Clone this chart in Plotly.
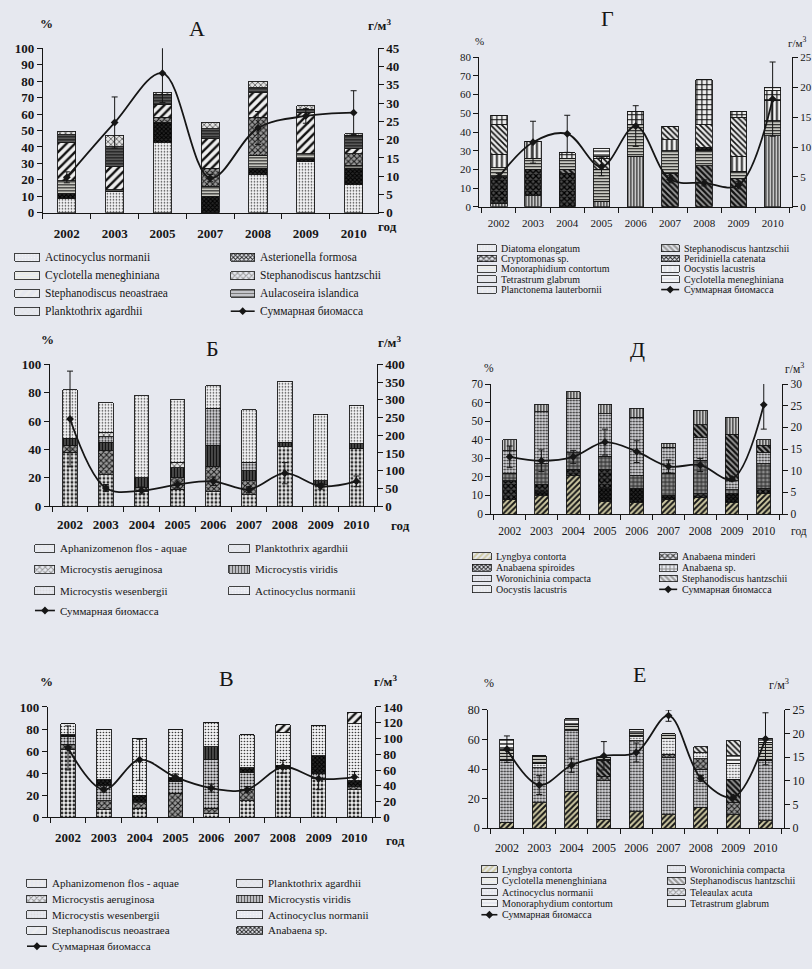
import plotly.graph_objects as go

W, H = 812, 969
PAPER = "#e6e8ef"
INK = "#161616"
SERIF = "Liberation Serif"

YEARS = ["2002", "2003", "2004", "2005", "2006", "2007", "2008", "2009", "2010"]
YEARS_A = ["2002", "2003", "2005", "2007", "2008", "2009", "2010"]

# ---------------- Panel А (% of biomass, total biomass g/m3) ----------------
A_ACTINOCYCLUS = [8.5, 13, 43, 0, 23, 31, 17]
A_ASTERIONELLA = [3, 0, 12, 10, 4, 2, 10]
A_CYCLOTELLA = [8, 1, 0, 6, 8, 3, 2]
A_ST_HANTZSCHII = [0, 0, 3, 11, 23, 0, 7]
A_ST_NEOASTRAEA = [23, 14, 8, 18, 15, 25, 3]
A_AULACOSEIRA = [5, 12, 6, 6, 3, 2, 8]
A_PLANKTOTHRIX = [2, 7, 1, 4, 4, 2, 1]
A_BIOMASS = [9.7, 24.7, 38.2, 9.5, 23.2, 26.5, 27.4]
A_BIOMASS_ERR = [1.5, 7, 8, 1, 4.5, 2, 6]

# ---------------- Panel Г ----------------
G_DIATOMA = [2, 6, 0, 3, 27, 0, 0, 0, 38]
G_CRYPTOMONAS = [14, 14, 18, 0, 0, 0, 0, 0, 0]
G_ST_HANTZSCHII = [0, 0, 2, 0, 0, 18, 22, 15, 0]
G_MONORAPHIDIUM = [5, 6, 6, 17, 17, 12, 8, 4, 8]
G_PERIDINIELLA = [0, 0, 0, 0, 0, 0, 2, 0, 0]
G_OOCYSTIS = [7, 9, 0, 0, 0, 6, 0, 8, 11]
G_TETRASTRUM = [16, 0, 0, 6, 0, 7, 12, 21, 0]
G_PLANCTONEMA = [5, 0, 3, 1, 7, 0, 24, 3, 5]
G_CYCLOTELLA = [0, 0, 0, 4, 0, 0, 0, 0, 2]
G_BIOMASS = [5.0, 10.8, 12.2, 6.7, 13.5, 4.6, 4.0, 3.6, 18.0]
G_BIOMASS_ERR = [0.6, 3.5, 3.1, 1.5, 3.4, 0.6, 0.5, 0.6, 6.2]

# ---------------- Panel Б ----------------
B_APHANIZOMENON = [38, 22, 10, 12, 10, 8, 42, 15, 41]
B_M_AERUGINOSA = [5, 17, 3, 8, 18, 10, 0, 0, 0]
B_M_VIRIDIS = [5, 6, 7, 7, 15, 7, 3, 3, 3]
B_M_WESENBERGII = [0, 4, 0, 0, 26, 6, 0, 0, 0]
B_PLANKTOTHRIX = [0, 3, 0, 4, 0, 0, 0, 0, 0]
B_ACTINOCYCLUS = [34, 21, 58, 44, 16, 37, 43, 47, 27]
B_BIOMASS = [246, 51, 44, 61, 70, 47, 93, 56, 70]
B_BIOMASS_ERR = [135, 10, 10, 10, 12, 8, 30, 8, 15]

# ---------------- Panel Д ----------------
D_LYNGBYA = [8, 10, 21, 7, 6, 8, 9, 6, 11]
D_A_SPIROIDES = [0, 2, 0, 7, 8, 2, 0, 5, 0]
D_A_MINDERI = [10, 4, 3, 10, 0, 0, 2, 0, 3]
D_ANABAENA_SP = [4, 11, 9, 7, 7, 12, 18, 2, 13]
D_WORONICHINIA = [12, 28, 29, 23, 31, 14, 12, 5, 6]
D_ST_HANTZSCHII = [0, 0, 0, 0, 0, 0, 7, 25, 4]
D_OOCYSTIS = [6, 4, 4, 5, 5, 2, 8, 9, 3]
D_BIOMASS = [13.2, 12.3, 13.2, 16.6, 14.4, 11.0, 11.3, 8.1, 25.2]
D_BIOMASS_ERR = [2.5, 2.5, 1.5, 3, 2.5, 1.5, 1.5, 0.5, 5.6]

# ---------------- Panel В ----------------
V_APHANIZOMENON = [61, 7, 8, 0, 3, 15, 44, 35, 25]
V_M_AERUGINOSA = [5, 8, 5, 22, 5, 10, 0, 0, 3]
V_M_WESENBERGII = [7, 14, 1, 10, 44, 16, 0, 5, 0]
V_M_VIRIDIS = [0, 0, 0, 0, 12, 0, 0, 0, 0]
V_ANABAENA_SP = [2, 5, 6, 4, 0, 4, 3, 16, 5]
V_ACTINOCYCLUS = [10, 46, 51, 44, 22, 30, 30, 27, 52]
V_ST_NEOASTRAEA = [0, 0, 0, 0, 0, 0, 7, 0, 10]
V_PLANKTOTHRIX = [0, 0, 0, 0, 0, 0, 0, 0, 0]
V_BIOMASS = [88, 35, 73, 51, 37, 35, 64, 49, 51]
V_BIOMASS_ERR = [28, 3, 26, 4, 5, 4, 8, 14, 7]

# ---------------- Panel Е ----------------
E_LYNGBYA = [4, 17, 25, 6, 11, 9, 14, 9, 5]
E_WORONICHINIA = [42, 24, 41, 26, 48, 39, 26, 0, 41]
E_TELEAULAX = [0, 0, 0, 3, 0, 2, 7, 8, 0]
E_ST_HANTZSCHII = [0, 0, 0, 11, 0, 0, 0, 16, 0]
E_ACTINOCYCLUS = [0, 3, 0, 0, 3, 11, 4, 11, 0]
E_CYCLOTELLA = [7, 5, 4, 2, 2, 3, 0, 0, 12]
E_MONORAPHYDIUM = [7, 0, 4, 0, 3, 0, 0, 5, 3]
E_TETRASTRUM = [0, 0, 0, 0, 0, 0, 4, 10, 0]
E_BIOMASS = [16.7, 9.1, 13.3, 15.3, 16.0, 23.8, 10.5, 6.5, 18.9]
E_BIOMASS_ERR = [2.8, 2, 1.5, 3, 2, 1.2, 0.6, 0.5, 5.5]

TOTAL = "Суммарная биомасса"

# Fill patterns used for the taxa
PATTERNS = {
    "dots": dict(shape=".", fg="#333333", bg="#f2f2f4", solidity=0.22, size=3),
    "bigdots": dict(shape=".", fg="#2a2a2a", bg="#ececec", solidity=0.4, size=4),
    "dense_dots": dict(shape=".", fg="#1e1e1e", bg="#dcdce0", solidity=0.4, size=3),
    "hlines": dict(shape="-", fg="#111111", bg="#efefe6", solidity=0.45, size=3),
    "hlines2": dict(shape="-", fg="#111111", bg="#f8f8f8", solidity=0.35, size=4),
    "dark_hlines": dict(shape="-", fg="#111111", bg="#7a7a7a", solidity=0.55, size=3),
    "vlines": dict(shape="|", fg="#111111", bg="#eeeeee", solidity=0.45, size=3),
    "vlines_wide": dict(shape="|", fg="#111111", bg="#f4f4f4", solidity=0.35, size=5),
    "dark_vlines": dict(shape="|", fg="#111111", bg="#606060", solidity=0.55, size=3),
    "slash": dict(shape="/", fg="#111111", bg="#eeeeee", solidity=0.4, size=6),
    "slash_dense": dict(shape="/", fg="#161616", bg="#cfcaa4", solidity=0.5, size=4),
    "bslash": dict(shape="\\", fg="#111111", bg="#e8e8e8", solidity=0.4, size=4),
    "bslash_dense": dict(shape="\\", fg="#111111", bg="#9c9c9c", solidity=0.55, size=4),
    "cross": dict(shape="x", fg="#1a1a1a", bg="#9a9a9a", solidity=0.45, size=4),
    "dark_cross": dict(shape="x", fg="#000000", bg="#4a4a4a", solidity=0.55, size=4),
    "dark": dict(shape="x", fg="#000000", bg="#262626", solidity=0.55, size=3),
    "grid": dict(shape="+", fg="#111111", bg="#eeeeee", solidity=0.4, size=5),
    "grey_grid": dict(shape="+", fg="#2a2a2a", bg="#8c8c8c", solidity=0.45, size=4),
    "wavy": dict(shape="x", fg="#333333", bg="#e2e2e2", solidity=0.3, size=4),
}

PANELS = [
    dict(title="А", years=YEARS_A, box=(43, 378, 42, 209), left=(100, 10), right=(45, 5),
         bar_w=0.38, bold=True, tick_fs=13, standoff=8,
         series=[("Actinocyclus normanii", A_ACTINOCYCLUS, "dots"),
                 ("Asterionella formosa", A_ASTERIONELLA, "dark"),
                 ("Cyclotella meneghiniana", A_CYCLOTELLA, "hlines"),
                 ("Stephanodiscus hantzschii", A_ST_HANTZSCHII, "cross"),
                 ("Stephanodiscus neoastraea", A_ST_NEOASTRAEA, "slash"),
                 ("Aulacoseira islandica", A_AULACOSEIRA, "dark_hlines"),
                 ("Planktothrix agardhii", A_PLANKTOTHRIX, "wavy")],
         bio=A_BIOMASS, err=A_BIOMASS_ERR,
         title_xy=(197, 22), pct_xy=(47, 17), unit_xy=(380, 18), god_xy=(388, 223),
         legend=dict(fs=11.5, sw_h=8,
                     cols=[dict(sw=(15, 40), tx=43, rows=[254, 273, 291, 309],
                                items=["Actinocyclus normanii", "Cyclotella meneghiniana",
                                       "Stephanodiscus neoastraea", "Planktothrix agardhii"]),
                           dict(sw=(231, 255), tx=258, rows=[254, 273, 291, 309],
                                items=["Asterionella formosa", "Stephanodiscus hantzschii",
                                       "Aulacoseira islandica", TOTAL])])),
    dict(title="Г", years=YEARS, box=(480, 793, 51, 203), left=(80, 10), right=(25, 5),
         bar_w=0.48, bold=False, tick_fs=11, standoff=6,
         series=[("Diatoma elongatum", G_DIATOMA, "vlines"),
                 ("Cryptomonas sp.", G_CRYPTOMONAS, "dark_cross"),
                 ("Stephanodiscus hantzschii", G_ST_HANTZSCHII, "bslash_dense"),
                 ("Monoraphidium contortum", G_MONORAPHIDIUM, "hlines"),
                 ("Peridiniella catenata", G_PERIDINIELLA, "dark"),
                 ("Oocystis lacustris", G_OOCYSTIS, "vlines_wide"),
                 ("Tetrastrum glabrum", G_TETRASTRUM, "bslash"),
                 ("Planctonema lauterbornii", G_PLANCTONEMA, "grid"),
                 ("Cyclotella meneghiniana", G_CYCLOTELLA, "hlines2")],
         bio=G_BIOMASS, err=G_BIOMASS_ERR,
         title_xy=(608, 12), pct_xy=(480, 35), unit_xy=(798, 36), god_xy=None,
         legend=dict(fs=10, sw_h=7,
                     cols=[dict(sw=(478, 497), tx=500, rows=[245, 255.5, 266, 276.5, 287],
                                items=["Diatoma elongatum", "Cryptomonas sp.", "Monoraphidium contortum",
                                       "Tetrastrum glabrum", "Planctonema lauterbornii"]),
                           dict(sw=(662, 680), tx=683, rows=[245, 255.5, 266, 276.5, 287],
                                items=["Stephanodiscus hantzschii", "Peridiniella catenata",
                                       "Oocystis lacustris", "Cyclotella meneghiniana", TOTAL])])),
    dict(title="Б", years=YEARS, box=(50, 377, 363, 507), left=(100, 20), right=(400, 50),
         bar_w=0.41, bold=True, tick_fs=13, standoff=6,
         series=[("Aphanizomenon flos - aquae", B_APHANIZOMENON, "bigdots"),
                 ("Microcystis aeruginosa", B_M_AERUGINOSA, "cross"),
                 ("Microcystis viridis", B_M_VIRIDIS, "dark_vlines"),
                 ("Microcystis wesenbergii", B_M_WESENBERGII, "dense_dots"),
                 ("Planktothrix agardhii", B_PLANKTOTHRIX, "wavy"),
                 ("Actinocyclus normanii", B_ACTINOCYCLUS, "dots")],
         bio=B_BIOMASS, err=B_BIOMASS_ERR,
         title_xy=(213, 347), pct_xy=(48, 338), unit_xy=(390, 340), god_xy=(401, 527),
         legend=dict(fs=11, sw_h=8,
                     cols=[dict(sw=(35, 55), tx=58, rows=[550, 571, 593, 613],
                                items=["Aphanizomenon flos - aquae", "Microcystis aeruginosa",
                                       "Microcystis wesenbergii", TOTAL]),
                           dict(sw=(229, 250), tx=253, rows=[550, 571, 593],
                                items=["Planktothrix agardhii", "Microcystis viridis",
                                       "Actinocyclus normanii"])])),
    dict(title="Д", years=YEARS, box=(492, 783, 383, 515), left=(70, 10), right=(30, 5),
         bar_w=0.43, bold=False, tick_fs=11.5, standoff=6,
         series=[("Lyngbya contorta", D_LYNGBYA, "slash_dense"),
                 ("Anabaena spiroides", D_A_SPIROIDES, "dark"),
                 ("Anabaena minderi", D_A_MINDERI, "dark_cross"),
                 ("Anabaena sp.", D_ANABAENA_SP, "grey_grid"),
                 ("Woronichinia compacta", D_WORONICHINIA, "dense_dots"),
                 ("Stephanodiscus hantzschii", D_ST_HANTZSCHII, "bslash_dense"),
                 ("Oocystis lacustris", D_OOCYSTIS, "vlines")],
         bio=D_BIOMASS, err=D_BIOMASS_ERR,
         title_xy=(638, 348), pct_xy=(490, 367), unit_xy=(795, 367), god_xy=(800, 533),
         legend=dict(fs=10, sw_h=7,
                     cols=[dict(sw=(473, 492), tx=495, rows=[558, 569.5, 580.5, 591.5],
                                items=["Lyngbya contorta", "Anabaena spiroides",
                                       "Woronichinia compacta", "Oocystis lacustris"]),
                           dict(sw=(660, 678), tx=681, rows=[558, 569.5, 580.5, 591.5],
                                items=["Anabaena minderi", "Anabaena sp.",
                                       "Stephanodiscus hantzschii", TOTAL])])),
    dict(title="В", years=YEARS, box=(48, 375, 711, 823), left=(100, 20), right=(140, 20),
         bar_w=0.41, bold=True, tick_fs=13, standoff=8,
         series=[("Aphanizomenon flos - aquae", V_APHANIZOMENON, "bigdots"),
                 ("Microcystis aeruginosa", V_M_AERUGINOSA, "cross"),
                 ("Microcystis wesenbergii", V_M_WESENBERGII, "dense_dots"),
                 ("Microcystis viridis", V_M_VIRIDIS, "dark_vlines"),
                 ("Anabaena sp.", V_ANABAENA_SP, "dark"),
                 ("Actinocyclus normanii", V_ACTINOCYCLUS, "dots"),
                 ("Stephanodiscus neoastraea", V_ST_NEOASTRAEA, "slash"),
                 ("Planktothrix agardhii", V_PLANKTOTHRIX, "wavy")],
         bio=V_BIOMASS, err=V_BIOMASS_ERR,
         title_xy=(227, 682), pct_xy=(47, 685), unit_xy=(386, 685), god_xy=(396, 847),
         legend=dict(fs=11, sw_h=8,
                     cols=[dict(sw=(27, 47), tx=50, rows=[890, 906, 922, 938, 954],
                                items=["Aphanizomenon flos - aquae", "Microcystis aeruginosa",
                                       "Microcystis wesenbergii", "Stephanodiscus neoastraea", TOTAL]),
                           dict(sw=(237, 263), tx=266, rows=[890, 906, 922, 938],
                                items=["Planktothrix agardhii", "Microcystis viridis",
                                       "Actinocyclus normanii", "Anabaena sp."])])),
    dict(title="Е", years=YEARS, box=(489, 785, 714, 834), left=(80, 20), right=(25, 5),
         bar_w=0.43, bold=False, tick_fs=12, standoff=8,
         series=[("Lyngbya contorta", E_LYNGBYA, "slash_dense"),
                 ("Woronichinia compacta", E_WORONICHINIA, "dense_dots"),
                 ("Teleaulax acuta", E_TELEAULAX, "cross"),
                 ("Stephanodiscus hantzschii", E_ST_HANTZSCHII, "bslash_dense"),
                 ("Actinocyclus normanii", E_ACTINOCYCLUS, "dots"),
                 ("Cyclotella menenghiniana", E_CYCLOTELLA, "hlines"),
                 ("Monoraphydium contortum", E_MONORAPHYDIUM, "hlines2"),
                 ("Tetrastrum glabrum", E_TETRASTRUM, "bslash")],
         bio=E_BIOMASS, err=E_BIOMASS_ERR,
         title_xy=(640, 678), pct_xy=(490, 687), unit_xy=(780, 688), god_xy=None,
         legend=dict(fs=10, sw_h=7,
                     cols=[dict(sw=(482, 498), tx=501, rows=[876, 887.5, 899, 910.5, 922],
                                items=["Lyngbya contorta", "Cyclotella menenghiniana",
                                       "Actinocyclus normanii", "Monoraphydium contortum", TOTAL]),
                           dict(sw=(668, 686), tx=689, rows=[876, 887.5, 899, 910.5],
                                items=["Woronichinia compacta", "Stephanodiscus hantzschii",
                                       "Teleaulax acuta", "Tetrastrum glabrum"])])),
]


def fx(x):
    return x / W


def fy(y):
    return 1 - y / H


def font(size, bold):
    return dict(family=SERIF, size=size, color=INK, weight="bold" if bold else "normal")


fig = go.Figure()
layout = dict(
    width=W, height=H, margin=dict(l=0, r=0, t=0, b=0),
    paper_bgcolor=PAPER, plot_bgcolor="rgba(0,0,0,0)",
    barmode="stack", showlegend=False,
)
annotations = []

# legend key geometry, drawn on a full-page helper axis in pixel units
sw = dict(x=[], base=[], w=[], h=[], shape=[], fg=[], bg=[], sol=[], size=[])
line_keys = []

for i, p in enumerate(PANELS):
    n = i + 1
    xname = "xaxis" if n == 1 else f"xaxis{n}"
    yname = "yaxis" if n == 1 else f"yaxis{n}"
    y2name = f"yaxis{n + 6}"
    xref = "x" if n == 1 else f"x{n}"
    yref = "y" if n == 1 else f"y{n}"
    y2ref = f"y{n + 6}"
    x0, x1, yt, yb = p["box"]
    tf = font(p["tick_fs"], p["bold"])

    for name, vals, style in p["series"]:
        st = PATTERNS[style]
        fig.add_trace(go.Bar(
            x=p["years"], y=vals, name=name, xaxis=xref, yaxis=yref, width=p["bar_w"],
            marker=dict(color=st["bg"], line=dict(color=INK, width=0.9),
                        pattern=dict(shape=st["shape"], fgcolor=st["fg"], bgcolor=st["bg"],
                                     solidity=st["solidity"], size=st["size"], fillmode="replace")),
            hoverinfo="skip"))

    fig.add_trace(go.Scatter(
        x=p["years"], y=p["bio"], name=TOTAL, xaxis=xref, yaxis=y2ref, mode="lines+markers",
        line=dict(color=INK, width=1.8, shape="spline", smoothing=1.0),
        marker=dict(symbol="diamond", size=6, color=INK),
        error_y=dict(type="data", array=p["err"], color=INK, thickness=1, width=3),
        cliponaxis=False, hoverinfo="skip"))

    common = dict(showline=True, linecolor=INK, linewidth=1.3, ticks="outside", ticklen=5,
                  tickwidth=1.1, tickcolor=INK, tickfont=tf, showgrid=False, zeroline=False,
                  fixedrange=True)
    layout[xname] = dict(domain=[fx(x0), fx(x1)], anchor=yref, type="category",
                         categoryorder="array", categoryarray=p["years"], tickson="boundaries",
                         tickangle=0, ticklabelstandoff=p["standoff"], **common)
    layout[yname] = dict(domain=[fy(yb), fy(yt)], anchor=xref, range=[0, p["left"][0]],
                         tick0=0, dtick=p["left"][1], **common)
    layout[y2name] = dict(overlaying=yref, side="right", anchor=xref, range=[0, p["right"][0]],
                          tick0=0, dtick=p["right"][1], **common)

    # panel letter and axis captions
    annotations.append(dict(text=p["title"], x=fx(p["title_xy"][0]), y=fy(p["title_xy"][1]),
                            font=dict(family=SERIF, size=22, color=INK)))
    annotations.append(dict(text="%", x=fx(p["pct_xy"][0]), y=fy(p["pct_xy"][1]),
                            font=font(p["tick_fs"], p["bold"])))
    annotations.append(dict(text="г/м<sup>3</sup>", x=fx(p["unit_xy"][0]), y=fy(p["unit_xy"][1]),
                            font=font(p["tick_fs"], p["bold"])))
    if p["god_xy"]:
        annotations.append(dict(text="год", x=fx(p["god_xy"][0]), y=fy(p["god_xy"][1]),
                                font=font(p["tick_fs"], p["bold"])))

    # legend entries
    styles = {name: style for name, _, style in p["series"]}
    lg = p["legend"]
    for col in lg["cols"]:
        sx0, sx1 = col["sw"]
        for yy, label in zip(col["rows"], col["items"]):
            if label == TOTAL:
                line_keys.append((sx0, sx1, yy))
            else:
                st = PATTERNS[styles[label]]
                sw["x"].append((sx0 + sx1) / 2)
                sw["w"].append(sx1 - sx0)
                sw["base"].append(yy - lg["sw_h"] / 2)
                sw["h"].append(lg["sw_h"])
                sw["shape"].append(st["shape"])
                sw["fg"].append(st["fg"])
                sw["bg"].append(st["bg"])
                sw["sol"].append(st["solidity"])
                sw["size"].append(st["size"])
            annotations.append(dict(text=label, x=fx(col["tx"]), y=fy(yy), xanchor="left",
                                    font=dict(family=SERIF, size=lg["fs"], color=INK)))

# helper axis spanning the page in pixel units for the legend keys
fig.add_trace(go.Bar(
    x=sw["x"], y=sw["h"], base=sw["base"], width=sw["w"], xaxis="x7", yaxis="y13",
    marker=dict(color=sw["bg"], line=dict(color=INK, width=0.8),
                pattern=dict(shape=sw["shape"], fgcolor=sw["fg"], bgcolor=sw["bg"],
                             solidity=sw["sol"], size=sw["size"], fillmode="replace")),
    hoverinfo="skip"))
lx, ly, mx, my = [], [], [], []
for a, b, yy in line_keys:
    lx += [a, b, None]
    ly += [yy, yy, None]
    mx.append((a + b) / 2)
    my.append(yy)
fig.add_trace(go.Scatter(x=lx, y=ly, mode="lines", line=dict(color=INK, width=1.6),
                         xaxis="x7", yaxis="y13", hoverinfo="skip", cliponaxis=False))
fig.add_trace(go.Scatter(x=mx, y=my, mode="markers", marker=dict(symbol="diamond", size=6, color=INK),
                         xaxis="x7", yaxis="y13", hoverinfo="skip", cliponaxis=False))
layout["xaxis7"] = dict(domain=[0, 1], range=[0, W], visible=False, fixedrange=True, anchor="y13")
layout["yaxis13"] = dict(domain=[0, 1], range=[H, 0], visible=False, fixedrange=True, anchor="x7")

for a in annotations:
    a.setdefault("xref", "paper")
    a.setdefault("yref", "paper")
    a.setdefault("showarrow", False)
    a.setdefault("xanchor", "center")
    a.setdefault("yanchor", "middle")
layout["annotations"] = annotations

fig.update_layout(**layout)
fig.write_html("out.html")
